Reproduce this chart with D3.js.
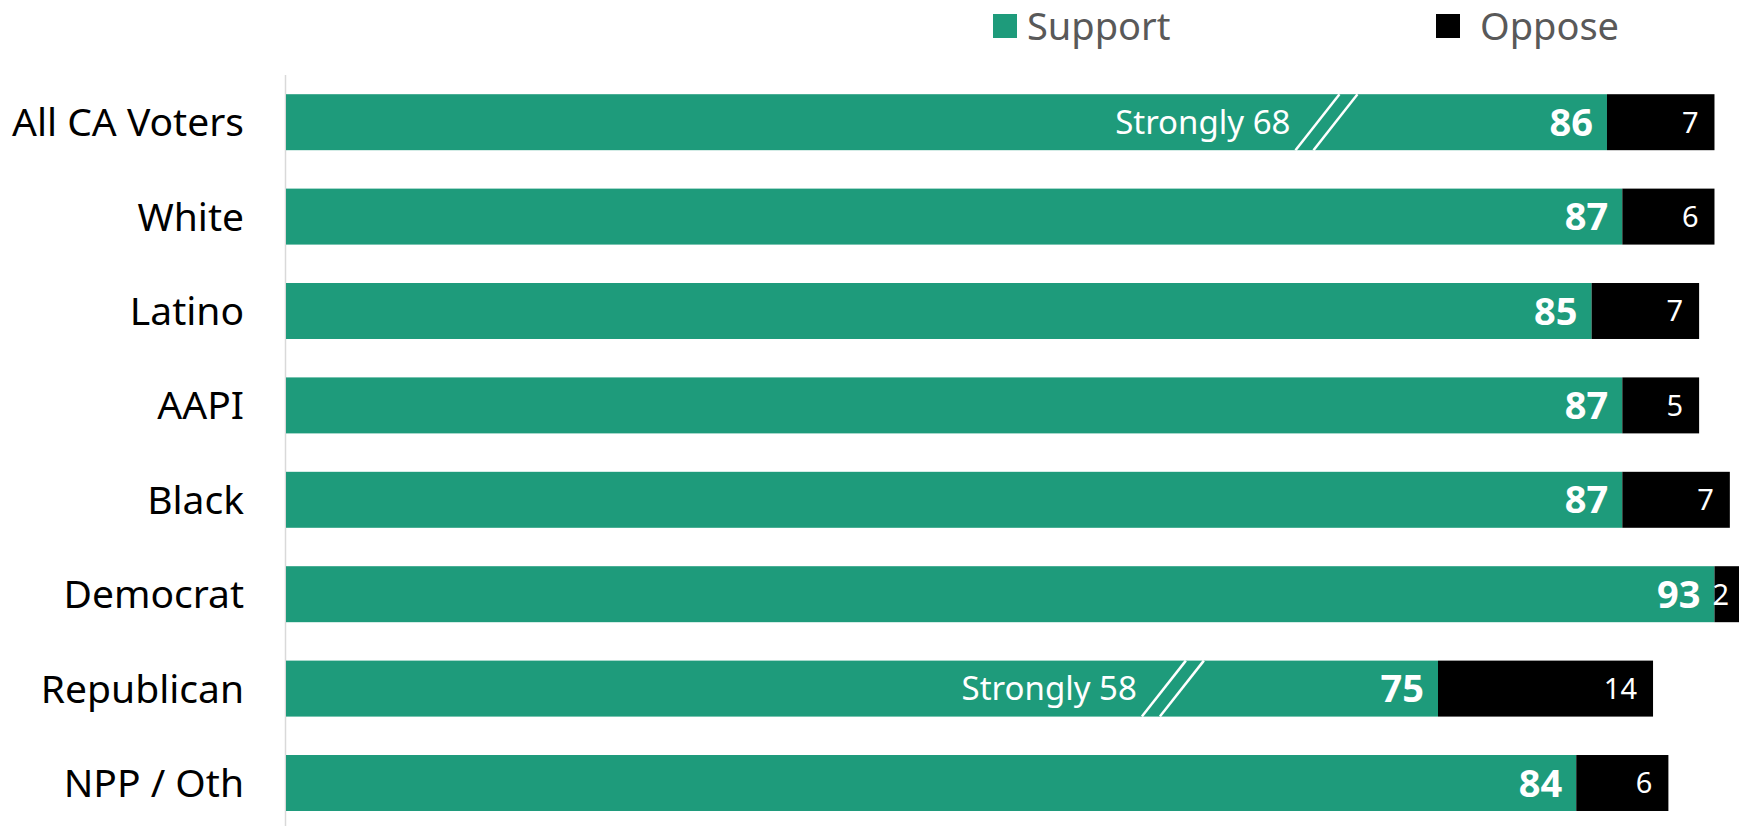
<!DOCTYPE html>
<html>
<head>
<meta charset="utf-8">
<script src="https://cdn.jsdelivr.net/npm/d3@7"></script>
<style>
  body { margin: 0; background: #fff; }
  svg { display: block; font-family: "Noto Sans", "Open Sans", sans-serif; }
</style>
</head>
<body>
<div id="chart-area"></div>
<script>
// groups, top to bottom
const groups = ["All CA Voters", "White", "Latino", "AAPI", "Black", "Democrat", "Republican", "NPP / Oth"]
const support = [86, 87, 85, 87, 87, 93, 75, 84]
const oppose = [7, 6, 7, 5, 7, 2, 14, 6]
// "Strongly" support shown only for some rows (null = not shown)
const strongly = [68, null, null, null, null, null, 58, null]

const seriesNames = ["Support", "Oppose"]
const seriesColors = ["#1e9b7b", "#000000"]

const width = 1739, height = 826
const margin = { left: 286, top: 75 }

const svg = d3.select("#chart-area").append("svg")
    .attr("width", width)
    .attr("height", height)

const x = d3.scaleLinear().domain([0, 100]).range([margin.left, margin.left + 1536])
const y = d3.scaleBand().domain(groups).range([margin.top, margin.top + 94.4 * groups.length]).paddingInner(0.407).paddingOuter(0.2035)

const rows = groups.map((g, i) => ({ group: g, support: support[i], oppose: oppose[i], strongly: strongly[i] }))

// vertical axis line
svg.append("line")
    .attr("x1", x(0) - 0.5).attr("x2", x(0) - 0.5)
    .attr("y1", 75).attr("y2", height)
    .attr("stroke", "#d9d9d9").attr("stroke-width", 1.5)

const row = svg.append("g").selectAll("g")
  .data(rows)
  .join("g")

row.append("rect")
    .attr("x", x(0))
    .attr("y", d => y(d.group))
    .attr("width", d => x(d.support) - x(0))
    .attr("height", y.bandwidth())
    .attr("fill", seriesColors[0])

row.append("rect")
    .attr("x", d => x(d.support))
    .attr("y", d => y(d.group))
    .attr("width", d => x(d.support + d.oppose) - x(d.support))
    .attr("height", y.bandwidth())
    .attr("fill", seriesColors[1])

// category labels
row.append("text")
    .attr("x", x(0) - 42)
    .attr("y", d => y(d.group) + y.bandwidth() / 2)
    .attr("dy", "0.36em")
    .attr("text-anchor", "end")
    .attr("font-size", 39)
    .attr("fill", "#000")
    .text(d => d.group)

// support values
row.append("text")
    .attr("x", d => x(d.support) - 14)
    .attr("y", d => y(d.group) + y.bandwidth() / 2)
    .attr("dy", "0.36em")
    .attr("text-anchor", "end")
    .attr("font-size", 38)
    .attr("font-weight", "bold")
    .attr("fill", "#fff")
    .text(d => d.support)

// oppose values
row.append("text")
    .attr("x", d => x(d.support + d.oppose) - 16)
    .attr("y", d => y(d.group) + y.bandwidth() / 2)
    .attr("dy", "0.36em")
    .attr("text-anchor", "end")
    .attr("font-size", 29)
    .attr("fill", "#fff")
    .text(d => d.oppose)

// "Strongly" marker with break lines
const strong = row.filter(d => d.strongly != null)

strong.append("text")
    .attr("x", d => x(d.strongly) - 40)
    .attr("y", d => y(d.group) + y.bandwidth() / 2)
    .attr("dy", "0.36em")
    .attr("text-anchor", "end")
    .attr("font-size", 33)
    .attr("fill", "#fff")
    .text(d => "Strongly " + d.strongly)

;[-9, 9].forEach(off => {
  strong.append("line")
      .attr("x1", d => x(d.strongly) - 4 + off - 22)
      .attr("x2", d => x(d.strongly) - 4 + off + 22)
      .attr("y1", d => y(d.group) + y.bandwidth())
      .attr("y2", d => y(d.group))
      .attr("stroke", "#fff")
      .attr("stroke-width", 2.5)
})

// legend
const legendX = [993, 1436]
const legendGap = [34, 44]
const legend = svg.append("g").selectAll("g")
  .data(seriesNames)
  .join("g")
    .attr("transform", (d, i) => "translate(" + legendX[i] + ",14)")

legend.append("rect")
    .attr("width", 24).attr("height", 24)
    .attr("fill", (d, i) => seriesColors[i])

legend.append("text")
    .attr("x", (d, i) => legendGap[i])
    .attr("y", 12)
    .attr("dy", "0.36em")
    .attr("font-size", 38)
    .attr("fill", "#595959")
    .text(d => d)
</script>
</body>
</html>
